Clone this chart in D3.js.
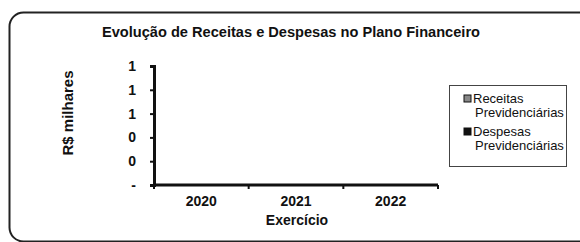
<!DOCTYPE html>
<html>
<head>
<meta charset="utf-8">
<script src="https://cdn.jsdelivr.net/npm/d3@7"></script>
<style>
  body { margin: 0; background: #fff; }
  text { font-family: "Liberation Sans", Arial, sans-serif; fill: #111; }
</style>
</head>
<body>
<script>
const wid = 580, hei = 242;

const anos = ['2020', '2021', '2022'];
const receitas = [0, 0, 0];
const despesas = [0, 0, 0];
const yTicks = [0, 0.2, 0.4, 0.6, 0.8, 1.0];
const seriesNames = ['Receitas Previdenciárias', 'Despesas Previdenciárias'];
const seriesColors = ['#888888', '#111111'];

// accounting style: zero shows as "-"
function fmtTick(d) {
    if (d === 0) return '-';
    return Math.round(d).toString();
}

let svg = d3.select('body')
    .append('svg')
    .attr('width', wid)
    .attr('height', hei);

// outer rounded frame
svg.append('rect')
    .attr('x', 9.5).attr('y', 12.5)
    .attr('width', 585).attr('height', 229)
    .attr('rx', 14)
    .attr('fill', 'none')
    .attr('stroke', '#222')
    .attr('stroke-width', 2);

svg.append('text')
    .attr('x', 102).attr('y', 37)
    .attr('font-size', 14)
    .attr('font-weight', 'bold')
    .attr('textLength', 378)
    .attr('lengthAdjust', 'spacingAndGlyphs')
    .text('Evolução de Receitas e Despesas no Plano Financeiro');

const x = d3.scaleBand().domain(anos).range([154, 438]).paddingInner(0.3).paddingOuter(0.15);
const y = d3.scaleLinear().domain([0, 1]).range([185, 66]);

// bars (all zero)
const sub = d3.scaleBand().domain([0, 1]).range([0, x.bandwidth()]);
anos.forEach((a, i) => {
    [receitas[i], despesas[i]].forEach((v, k) => {
        svg.append('rect')
            .attr('x', x(a) + sub(k))
            .attr('y', y(v))
            .attr('width', sub.bandwidth())
            .attr('height', y(0) - y(v))
            .attr('fill', seriesColors[k]);
    });
});

// y axis
let yAx = svg.append('g')
    .attr('transform', 'translate(154,0)')
    .call(d3.axisLeft(y).tickValues(yTicks).tickFormat(fmtTick).tickSize(4).tickPadding(14));
yAx.select('.domain').attr('stroke', '#111').attr('stroke-width', 3);
yAx.selectAll('.tick line').attr('stroke', '#111').attr('stroke-width', 2);
yAx.selectAll('text').attr('font-size', 14).attr('font-weight', 'bold')
    .attr('font-family', '"Liberation Sans", Arial, sans-serif').attr('fill', '#111');

// x axis, ticks between categories
let xAx = svg.append('g')
    .attr('transform', 'translate(0,185)');
xAx.append('line')
    .attr('x1', 154).attr('x2', 438)
    .attr('stroke', '#111').attr('stroke-width', 3);
xAx.selectAll('.tk')
    .data([0, 1, 2, 3])
    .enter()
    .append('line')
    .attr('x1', (d) => 154 + d * x.step() )
    .attr('x2', (d) => 154 + d * x.step() )
    .attr('y1', 0).attr('y2', 4)
    .attr('stroke', '#111').attr('stroke-width', 2);
xAx.selectAll('.lbl')
    .data(anos)
    .enter()
    .append('text')
    .attr('x', (d) => x(d) + x.bandwidth() / 2)
    .attr('y', 21)
    .attr('text-anchor', 'middle')
    .attr('font-size', 14)
    .attr('font-weight', 'bold')
    .text((d) => d);

svg.append('text')
    .attr('x', 297).attr('y', 225)
    .attr('text-anchor', 'middle')
    .attr('font-size', 14)
    .attr('font-weight', 'bold')
    .text('Exercício');

svg.append('text')
    .attr('transform', 'translate(73,113) rotate(-90)')
    .attr('text-anchor', 'middle')
    .attr('font-size', 15)
    .attr('font-weight', 'bold')
    .text('R$ milhares');

// legend
let lg = svg.append('g');
lg.append('rect')
    .attr('x', 449.5).attr('y', 85.5)
    .attr('width', 117).attr('height', 81)
    .attr('fill', '#fff')
    .attr('stroke', '#444')
    .attr('stroke-width', 1);
seriesNames.forEach((nm, k) => {
    const y0 = 103 + k * 33;
    lg.append('rect')
        .attr('x', 464).attr('y', y0 - 8)
        .attr('width', 7).attr('height', 7)
        .attr('fill', seriesColors[k])
        .attr('stroke', '#111').attr('stroke-width', 1);
    const parts = nm.split(' ');
    lg.append('text')
        .attr('x', 473).attr('y', y0)
        .attr('font-size', 13)
        .text(parts[0]);
    lg.append('text')
        .attr('x', 475).attr('y', y0 + 14)
        .attr('font-size', 13)
        .text(parts[1]);
});
</script>
</body>
</html>
